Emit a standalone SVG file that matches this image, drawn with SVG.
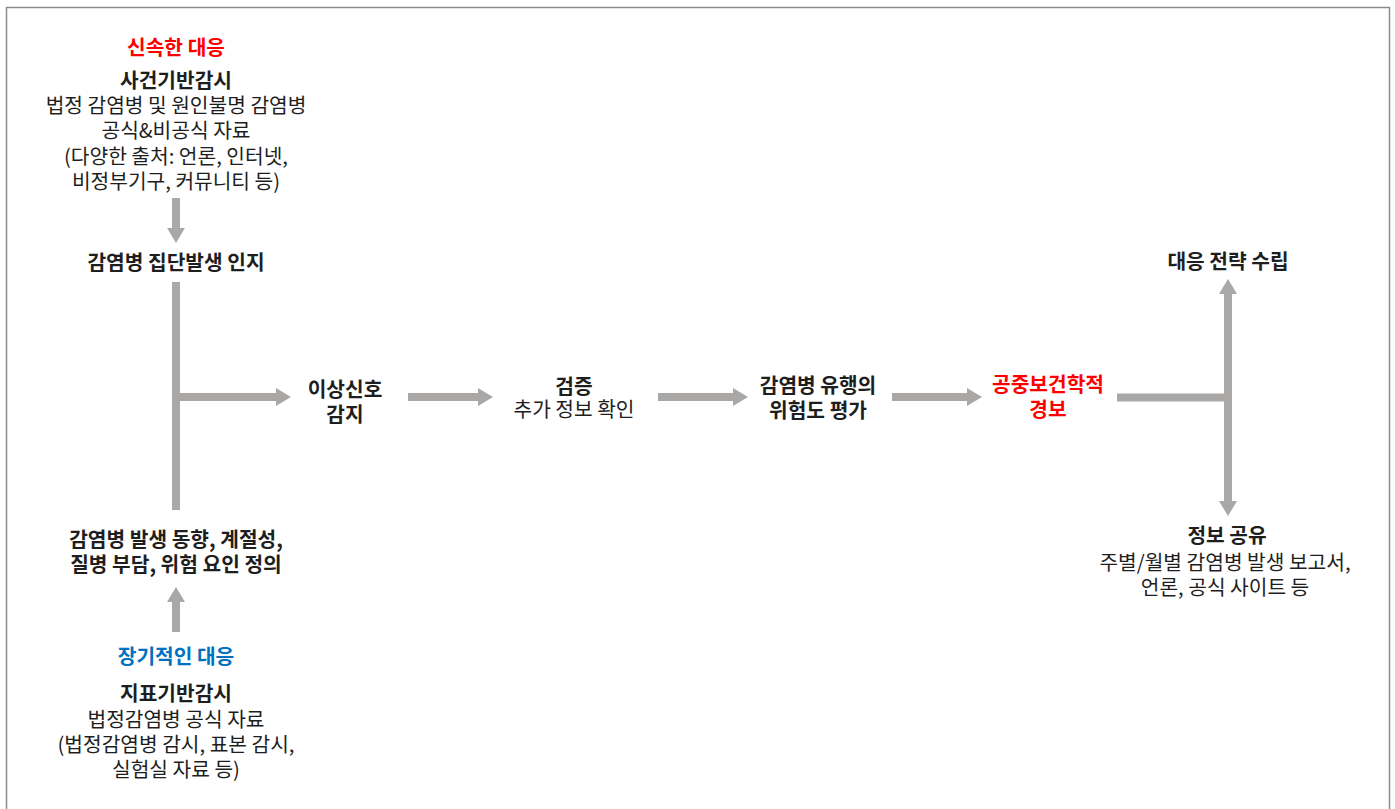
<svg xmlns="http://www.w3.org/2000/svg" width="1395" height="809" viewBox="0 0 1395 809">
<style>
text{font-family:"Noto Sans CJK KR","Noto Sans",sans-serif;font-size:20.3px;fill:#1e1e1e;text-anchor:middle}
.b{font-weight:bold}
.red{fill:#ff0000;font-weight:bold}
.blue{fill:#0070c0;font-weight:bold}
.ln{stroke:#aaa7a7;stroke-width:8;fill:none}
</style>
<defs>
<marker id="ah" markerUnits="userSpaceOnUse" markerWidth="15" markerHeight="18" refX="0" refY="9" orient="auto" viewBox="0 0 15 18">
<path d="M0,0 L15,9 L0,18 Z" fill="#aaa7a7"/>
</marker>
</defs>
<rect x="6.5" y="7.5" width="1383" height="830" fill="#fff" stroke="#8c8c8c" stroke-width="1.5"/>
<g id="connectors">
<path class="ln" d="M176,198 V228" marker-end="url(#ah)"/>
<path class="ln" d="M176,282 V510"/>
<path class="ln" d="M172,397 H276" marker-end="url(#ah)"/>
<path class="ln" d="M408,397 H478" marker-end="url(#ah)"/>
<path class="ln" d="M658,397 H733" marker-end="url(#ah)"/>
<path class="ln" d="M892,397 H967" marker-end="url(#ah)"/>
<path class="ln" d="M1117,397.5 H1232"/>
<path class="ln" d="M1228,397 V294" marker-end="url(#ah)"/>
<path class="ln" d="M1228,397 V501" marker-end="url(#ah)"/>
<path class="ln" d="M176,632 V602" marker-end="url(#ah)"/>
</g>
<g id="event-based">
<text class="red" x="176" y="55">신속한 대응</text>
<text class="b" x="176" y="88">사건기반감시</text>
<text x="176" y="113">법정 감염병 및 원인불명 감염병</text>
<text x="176" y="138">공식&amp;비공식 자료</text>
<text x="176" y="164">(다양한 출처: 언론, 인터넷,</text>
<text x="176" y="189">비정부기구, 커뮤니티 등)</text>
</g>
<g id="outbreak-recognition">
<text class="b" x="176" y="269.5">감염병 집단발생 인지</text>
</g>
<g id="signal-detection">
<text class="b" x="345" y="397">이상신호</text>
<text class="b" x="345" y="422">감지</text>
</g>
<g id="verification">
<text class="b" x="574" y="393.5">검증</text>
<text x="574" y="417">추가 정보 확인</text>
</g>
<g id="risk-assessment">
<text class="b" x="818" y="392.5">감염병 유행의</text>
<text class="b" x="818" y="417.5">위험도 평가</text>
</g>
<g id="public-health-alert">
<text class="red" x="1048" y="392">공중보건학적</text>
<text class="red" x="1048" y="417">경보</text>
</g>
<g id="response-strategy">
<text class="b" x="1228" y="269">대응 전략 수립</text>
</g>
<g id="info-sharing">
<text class="b" x="1227" y="543">정보 공유</text>
<text x="1225" y="570">주별/월별 감염병 발생 보고서,</text>
<text x="1225" y="595">언론, 공식 사이트 등</text>
</g>
<g id="trend-definition">
<text class="b" x="176" y="547">감염병 발생 동향, 계절성,</text>
<text class="b" x="176" y="572">질병 부담, 위험 요인 정의</text>
</g>
<g id="indicator-based">
<text class="blue" x="176" y="664">장기적인 대응</text>
<text class="b" x="176" y="701">지표기반감시</text>
<text x="176" y="727">법정감염병 공식 자료</text>
<text x="176" y="752">(법정감염병 감시, 표본 감시,</text>
<text x="176" y="777">실험실 자료 등)</text>
</g>
</svg>
